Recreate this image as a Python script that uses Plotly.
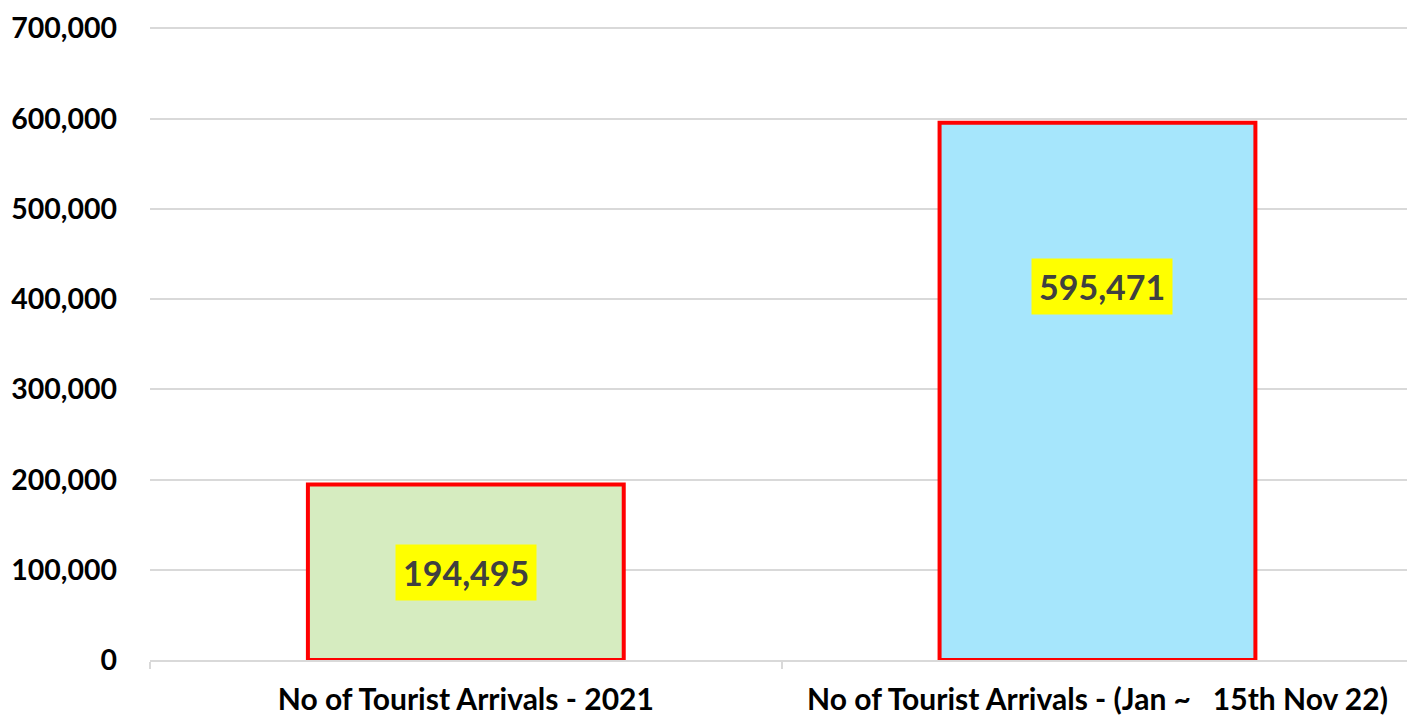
import plotly.graph_objects as go

categories = ["No of Tourist Arrivals - 2021",
              "No of Tourist Arrivals - (Jan ~\u00a0\u00a0\u00a015th Nov 22)"]
values = [194495, 595471]
bar_colors = ["#d6ecc0", "#a6e6fc"]
label_texts = ["194,495", "595,471"]
label_fracs = [0.5, 0.695]
y_ticks = [0, 100000, 200000, 300000, 400000, 500000, 600000, 700000]

FONT = "Lato"

fig = go.Figure()
fig.add_trace(go.Bar(
    x=categories, y=values,
    marker=dict(color=bar_colors, line=dict(color="#ff0000", width=4)),
    width=0.5, hoverinfo="skip",
))

for i, (c, v, t, f) in enumerate(zip(categories, values, label_texts, label_fracs)):
    fig.add_annotation(
        x=c, y=v * f, text="<b>%s</b>" % t, showarrow=False,
        font=dict(family=FONT, size=34, color="#404040"),
        bgcolor="#ffff00", borderpad=7, xshift=0 if i == 0 else 5,
    )

fig.update_layout(
    width=1407, height=715,
    margin=dict(l=150, r=0, t=27, b=55),
    paper_bgcolor="white", plot_bgcolor="white",
    showlegend=False,
    font=dict(family=FONT, color="#000000"),
    xaxis=dict(
        type="category", range=[-0.5, 1.49], automargin=False,
        showline=True, linecolor="#d9d9d9", linewidth=2,
        ticks="outside", tickson="boundaries", ticklen=7, tickcolor="#d9d9d9", tickwidth=2,
        tickfont=dict(family=FONT, size=30, color="#000000", weight="bold"),
        ticklabelstandoff=12,
        showgrid=False, zeroline=False,
    ),
    yaxis=dict(
        range=[0, 701500], tickvals=y_ticks, tickformat=",", automargin=False,
        showgrid=True, gridcolor="#d9d9d9", gridwidth=2,
        zeroline=False, showline=False, ticks="",
        tickfont=dict(family=FONT, size=28.5, color="#000000", weight="bold"),
        ticklabelstandoff=32,
    ),
)

fig.write_html(
    "out.html",
    config={"displayModeBar": False},
    post_script=("document.body.style.margin='0';"
                 "document.body.style.overflow='hidden';"
                 "document.documentElement.style.overflow='hidden';"),
)
